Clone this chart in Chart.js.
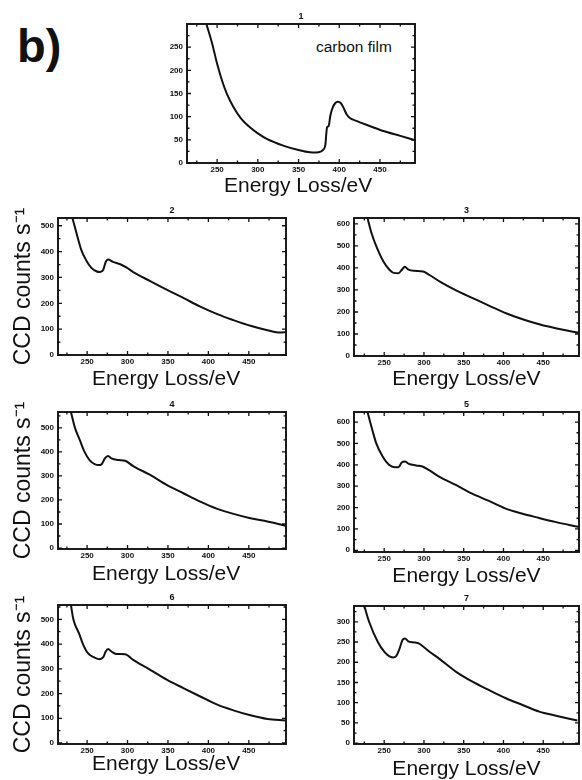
<!DOCTYPE html>
<html>
<head>
<meta charset="utf-8">
<script src="https://cdn.jsdelivr.net/npm/chart.js@4.4.1/dist/chart.umd.min.js"></script>
<style>
  html, body { margin: 0; padding: 0; background: #fff; overflow: hidden; }
  #page { position: relative; width: 582px; height: 780px; overflow: hidden;
          font-family: "Liberation Sans", Arial, sans-serif; color: #111; }
  .box { position: absolute; }
  #tag { position: absolute; left: 17px; top: 22px; font-size: 47px; line-height: 47px; font-weight: bold; }
  #film { position: absolute; left: 316px; top: 39px; font-size: 15.5px; line-height: 15px; }
</style>
</head>
<body>
<div id="page">
  <div id="tag">b)</div>
  <div id="film">carbon film</div>
</div>
<script>
// tick labels
const xTicks = [250, 300, 350, 400, 450];
const yTicks1 = [0, 50, 100, 150, 200, 250];
const yTicks2 = [0, 100, 200, 300, 400, 500];
const yTicks3 = [0, 100, 200, 300, 400, 500, 600];
const yTicks4 = [0, 100, 200, 300, 400, 500];
const yTicks5 = [0, 100, 200, 300, 400, 500, 600];
const yTicks6 = [0, 100, 200, 300, 400, 500];
const yTicks7 = [0, 50, 100, 150, 200, 250, 300];

// spectra: energy loss (eV) and CCD counts per second
const e1 = [237, 244, 250, 256, 262, 270, 279, 291, 300, 311, 332, 350, 364, 372, 377, 381, 383, 384, 385, 387, 389, 392, 395, 398, 402, 405, 409, 413, 421, 434, 454, 475, 493];
const c1 = [299, 257, 214, 178, 149, 121, 97, 76, 64, 52, 37, 28, 23, 22.5, 24.5, 30, 40, 62, 77, 80, 102, 120, 129, 132, 129, 120, 105, 97, 91, 82, 69, 58.5, 49];

const e2 = [232, 237, 243, 249, 255, 262, 266, 270, 273, 276, 282, 291, 299, 307, 328, 349, 369, 390, 411, 431, 452, 473, 489, 496];
const c2 = [528, 470, 405, 366, 338, 323, 321, 330, 360, 369, 360, 351, 338, 321, 286, 252, 221, 187, 158, 135, 113, 96, 87, 89];

const e3 = [229, 234, 241, 249, 256, 261, 268, 272, 276, 280, 287, 299, 307, 320, 341, 362, 383, 404, 425, 446, 467, 495];
const c3 = [627, 559, 490, 429, 394, 379, 376, 391, 406, 394, 387, 384, 368, 338, 297, 262, 227, 193, 166, 143, 125, 105];

const e4 = [230, 235, 241, 247, 253, 260, 264, 268, 272, 276, 280, 289, 297, 307, 328, 349, 369, 390, 411, 431, 452, 473, 495];
const c4 = [566, 500, 449, 399, 366, 348, 345, 349, 373, 383, 373, 366, 363, 341, 304, 262, 228, 193, 163, 142, 124, 110, 93];

const e5 = [229, 235, 240, 248, 256, 263, 268, 272, 276, 281, 290, 298, 306, 319, 340, 360, 381, 402, 423, 444, 465, 494];
const c5 = [647, 564, 500, 439, 400, 389, 389, 411, 415, 404, 397, 392, 376, 345, 306, 266, 232, 196, 172, 152, 133, 110];

const e6 = [230, 233, 240, 245, 251, 258, 265, 270, 273, 276, 280, 286, 297, 307, 328, 349, 369, 390, 411, 431, 452, 473, 495];
const c6 = [558, 500, 443, 399, 363, 347, 339, 347, 370, 380, 370, 360, 359, 336, 296, 255, 222, 188, 155, 132, 112, 97, 91];

const e7 = [225, 231, 242, 250, 256, 261, 265, 269, 273, 276, 281, 288, 294, 300, 307, 319, 340, 361, 382, 403, 424, 445, 466, 493];
const c7 = [339, 300, 250, 226, 215, 212, 215, 232, 255, 259, 251, 249, 246, 237, 226, 209, 177, 152, 131, 111, 94.5, 78, 68, 56];

// where each panel's plot box sits on the page
const panels = [
  { id: 1, e: e1, c: c1, yt: yTicks1, xMin: 213, xMax: 493, yMin: 0,  yMax: 300, left: 187, top: 24,  w: 228, h: 139, gap: 15.3, shift: 1, yTitle: false },
  { id: 2, e: e2, c: c2, yt: yTicks2, xMin: 214, xMax: 496, yMin: 0,  yMax: 530, left: 58,  top: 218, w: 228, h: 137, gap: 16.7, shift: 2, yTitle: true },
  { id: 3, e: e3, c: c3, yt: yTicks3, xMin: 212, xMax: 495, yMin: 0,  yMax: 627, left: 354, top: 218, w: 225, h: 138, gap: 16,   shift: 0, yTitle: false },
  { id: 4, e: e4, c: c4, yt: yTicks4, xMin: 214, xMax: 496, yMin: -4, yMax: 566, left: 58,  top: 412, w: 228, h: 137, gap: 17.4, shift: 2, yTitle: true },
  { id: 5, e: e5, c: c5, yt: yTicks5, xMin: 212, xMax: 495, yMin: -8, yMax: 647, left: 354, top: 412, w: 225, h: 140, gap: 16.6, shift: 0, yTitle: false },
  { id: 6, e: e6, c: c6, yt: yTicks6, xMin: 214, xMax: 496, yMin: -4, yMax: 558, left: 58,  top: 605, w: 228, h: 139, gap: 12.5, shift: 2, yTitle: true },
  { id: 7, e: e7, c: c7, yt: yTicks7, xMin: 212, xMax: 495, yMin: -2, yMax: 339, left: 354, top: 606, w: 225, h: 138, gap: 17.4, shift: 0, yTitle: false }
];

const FONT = '"Liberation Sans", Arial, sans-serif';
const INK = '#111';

function minors(major, lo, hi) {
  const step = major[1] - major[0];
  const out = [];
  for (let v = major[0] - step / 2; v < hi; v += step) {
    if (v > lo) out.push(v);
  }
  return out;
}

// frame + inward ticks on all four sides
const frameTicks = {
  id: 'frameTicks',
  afterDatasetsDraw(chart, args, opts) {
    const { ctx, chartArea: a, scales: { x, y } } = chart;
    ctx.save();
    ctx.strokeStyle = INK;
    ctx.lineWidth = 1.3;
    ctx.beginPath();
    const xs = [[opts.xt, 4], [minors(opts.xt, x.min, x.max), 2.5]];
    xs.forEach(([vals, len]) => vals.forEach(v => {
      const px = x.getPixelForValue(v);
      ctx.moveTo(px, a.bottom); ctx.lineTo(px, a.bottom - len);
      ctx.moveTo(px, a.top); ctx.lineTo(px, a.top + len);
    }));
    const ys = [[opts.yt, 4], [minors(opts.yt, y.min, y.max), 2.5]];
    ys.forEach(([vals, len]) => vals.forEach(v => {
      const py = y.getPixelForValue(v);
      ctx.moveTo(a.left, py); ctx.lineTo(a.left + len, py);
      ctx.moveTo(a.right, py); ctx.lineTo(a.right - len, py);
    }));
    ctx.stroke();
    ctx.lineWidth = 1.9;
    ctx.strokeRect(a.left, a.top, a.right - a.left, a.bottom - a.top);
    ctx.restore();
  }
};

const page = document.getElementById('page');

function makePanel(p) {
  const L = p.yTitle ? p.left : 30;
  const T = 16, B = 42, R = 8;
  const W = L + p.w + R, H = T + p.h + B;
  const div = document.createElement('div');
  div.className = 'box';
  div.style.left = (p.left - L) + 'px';
  div.style.top = (p.top - T) + 'px';
  div.style.width = W + 'px';
  div.style.height = H + 'px';
  const cv = document.createElement('canvas');
  cv.width = W;
  cv.height = H;
  div.appendChild(cv);
  page.appendChild(div);

  const tickFont = { family: FONT, size: 8, weight: 'bold' };

  new Chart(cv, {
    type: 'line',
    data: {
      datasets: [{
        data: p.e.map((x, i) => ({ x: x, y: p.c[i] })),
        borderColor: INK,
        borderWidth: 2,
        pointRadius: 0,
        cubicInterpolationMode: 'monotone',
        fill: false
      }]
    },
    options: {
      responsive: false,
      animation: false,
      devicePixelRatio: 1,
      layout: { padding: { left: 0, top: 0, right: R, bottom: 0 } },
      plugins: {
        legend: { display: false },
        tooltip: { enabled: false },
        frameTicks: { xt: xTicks, yt: p.yt }
      },
      scales: {
        x: {
          type: 'linear', position: 'bottom', min: p.xMin, max: p.xMax,
          afterBuildTicks: s => { s.ticks = xTicks.map(v => ({ value: v })); },
          afterFit: s => { s.height = B; },
          grid: { display: false, drawTicks: false },
          border: { display: false },
          ticks: { font: tickFont, color: INK, padding: 2, maxRotation: 0, autoSkip: false },
          title: {
            display: true, text: 'Energy Loss/eV' + ' '.repeat(p.shift), color: INK,
            font: { family: FONT, size: 21, lineHeight: 1 },
            padding: { top: 0, bottom: 23.8 - p.gap }
          }
        },
        x2: {
          type: 'linear', position: 'top', min: p.xMin, max: p.xMax,
          afterFit: s => { s.height = T; },
          grid: { display: false, drawTicks: false },
          border: { display: false },
          ticks: { display: false },
          title: {
            display: true, text: String(p.id), color: INK,
            font: { family: FONT, size: 9, weight: 'bold', lineHeight: 1 },
            padding: { top: 4, bottom: 0 }
          }
        },
        y: {
          type: 'linear', position: 'left', min: p.yMin, max: p.yMax,
          afterBuildTicks: s => { s.ticks = p.yt.map(v => ({ value: v })); },
          afterFit: s => { s.width = L; },
          grid: { display: false, drawTicks: false },
          border: { display: false },
          ticks: { font: tickFont, color: INK, padding: 4 },
          title: {
            display: p.yTitle, text: 'CCD counts s\u207B\u00B9', color: INK,
            font: { family: FONT, size: 23, lineHeight: 1 },
            padding: { top: 12.2, bottom: 0 }
          }
        }
      }
    },
    plugins: [frameTicks]
  });
}

panels.forEach(makePanel);
</script>
</body>
</html>
